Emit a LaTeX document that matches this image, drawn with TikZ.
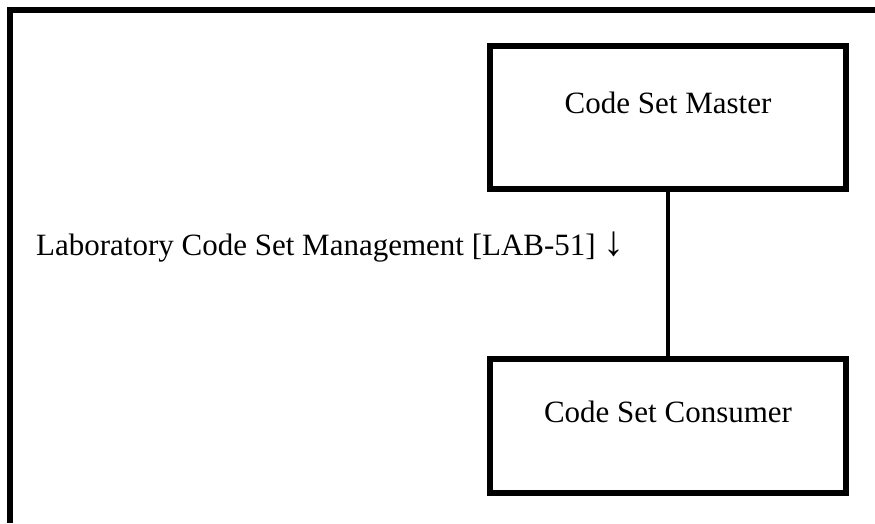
\documentclass[tikz,border=0pt]{standalone}
\usepackage{fontspec}
\setmainfont{Liberation Serif}
\usetikzlibrary{positioning}
\tikzset{
  actor/.style={
    draw,
    minimum width=356pt,
    minimum height=143pt,
    text height=22pt,
    text depth=30pt,
    inner sep=0pt,
    align=center,
    line width=6pt
  },
  link/.style={line width=4pt},
  frame/.style={line width=6pt},
  note/.style={inner sep=0pt}
}

\begin{document}
\begin{tikzpicture}[x=1pt,y=-1pt,node distance=164pt,font=\fontsize{31}{37}\selectfont]
  \useasboundingbox (0,0) rectangle (875,523);

  % Outer frame, open at the bottom and right.
  \draw[frame] (10,523) -- (10,10) -- (875,10);

  % Actors.
  \node[actor] (master) at (668,117.5) {Code Set Master};
  \node[actor,minimum height=134pt,below=of master] (consumer) {Code Set Consumer};
  \draw[link] (master.south) -- (consumer.north);

  % Transaction label.
  \node[note,anchor=base west] (trans) at (36,255)
    {Laboratory Code Set Management [LAB-51] {\fontsize{42}{42}\selectfont ↓}};
\end{tikzpicture}
\end{document}
